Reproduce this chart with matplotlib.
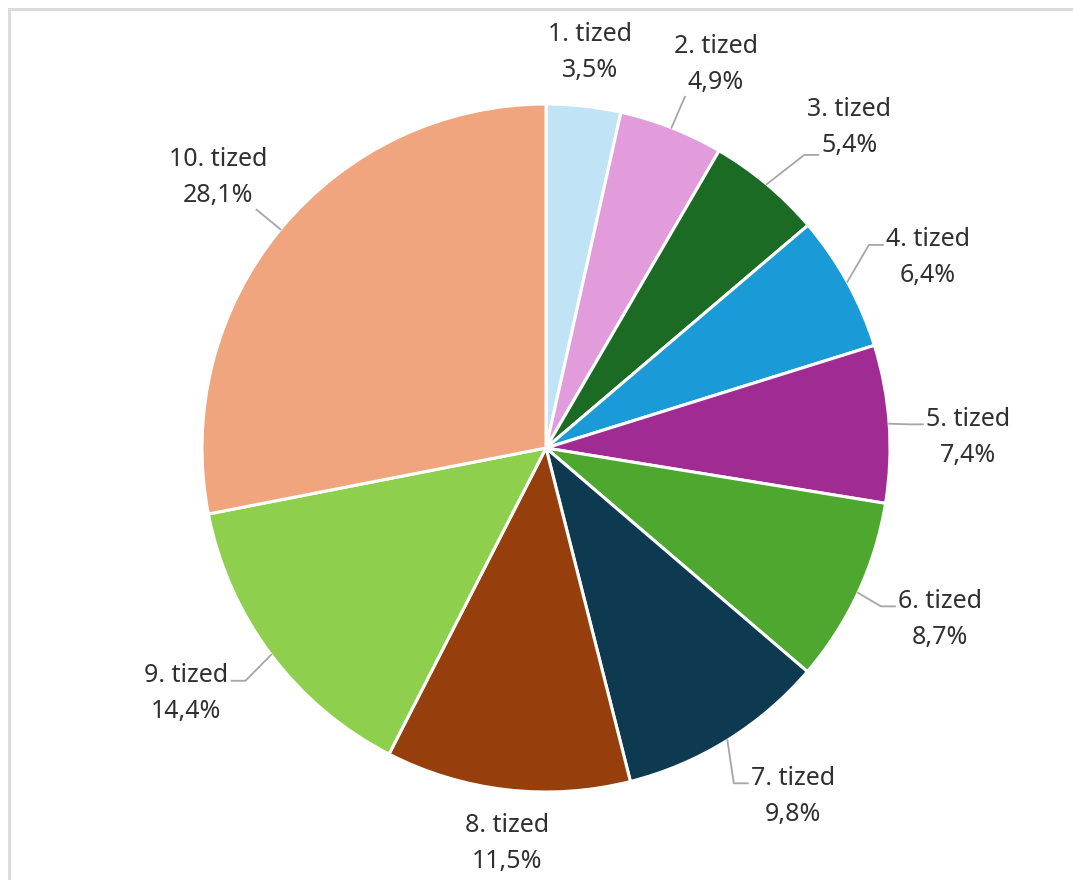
import numpy as np
import matplotlib.pyplot as plt
from matplotlib.lines import Line2D

plt.rcParams['font.family'] = ['Noto Sans', 'DejaVu Sans']

# adatok: jövedelmi tizedek részesedése
categories = ["1. tized", "2. tized", "3. tized", "4. tized", "5. tized",
              "6. tized", "7. tized", "8. tized", "9. tized", "10. tized"]
shares = [3.5, 4.9, 5.4, 6.4, 7.4, 8.7, 9.8, 11.5, 14.4, 28.1]
colors = ["#C0E4F5", "#E29BDB", "#1B6B24", "#1A9AD7", "#A02B93",
          "#4EA72E", "#0E3A51", "#973E0D", "#8ED04E", "#F0A57F"]

# címke elhelyezés: (távolság a sugárhoz képest, szögeltolás fokban)
label_pos = [(1.158, 0.0), (1.22, 2.5), (1.283, 3.5), (1.24, 2.4), (1.227, 2.6),
             (1.249, -1.4), (1.241, -3.5), (1.154, -0.8), (1.266, 2.6), (1.236, 0.1)]
# vezetővonal típusa
leader = [None, 'corner', 'value', 'name', 'name', 'name', 'name', None, 'name', 'corner']

fig = plt.figure(figsize=(10.73, 8.8), dpi=100)
ax = fig.add_axes([0, 0, 1, 1])

wedges, _ = ax.pie(shares, colors=colors, startangle=90, counterclock=False,
                   radius=1.0, wedgeprops=dict(edgecolor='white', linewidth=2.2))

ax.set_xlim(-546 / 344, (1073 - 546) / 344)
ax.set_ylim(-(880 - 448) / 344, 448 / 344)
ax.set_aspect('equal')
ax.axis('off')

total = sum(shares)
cum = np.cumsum([0] + shares)
dy = 18 / 344
labels = []
for i, (cat, val) in enumerate(zip(categories, shares)):
    mid = (cum[i] + val / 2) / total * 360
    d, shift = label_pos[i]
    a = np.radians(mid + shift)
    lx, ly = d * np.sin(a), d * np.cos(a)
    kw = dict(ha='center', va='center', fontsize=18, color='#303030')
    t1 = ax.text(lx, ly + dy, cat, **kw)
    t2 = ax.text(lx, ly - dy, f"{str(val).replace('.', ',')}%", **kw)
    labels.append((mid, t1, t2))

fig.canvas.draw()
r = fig.canvas.get_renderer()
inv = ax.transData.inverted()
for (mid, t1, t2), mode in zip(labels, leader):
    if mode is None:
        continue
    m = np.radians(mid)
    sx, sy = ax.transData.transform((np.sin(m), np.cos(m)))
    right = np.sin(m) > 0
    if mode == 'name':
        bb = t1.get_window_extent(r)
        ty = (bb.y0 + bb.y1) / 2 - 5
    elif mode == 'value':
        bb = t2.get_window_extent(r)
        ty = bb.y0 + 3
    else:
        bb = t2.get_window_extent(r)
        ty = bb.y0 - 2
    tx = bb.x0 - 3 if right else bb.x1 + 3
    if mode == 'corner':
        ex, ey = tx, ty
    else:
        ex, ey = (tx - 14 if right else tx + 14), ty
    pts = inv.transform([(sx, sy), (ex, ey), (tx, ty)])
    ax.add_line(Line2D(pts[:, 0], pts[:, 1], color='#A6A6A6', lw=1.3))

# keret
fig.add_artist(Line2D([9 / 1073, 1], [1 - 9 / 880, 1 - 9 / 880], transform=fig.transFigure,
                      color='#D9D9D9', lw=2))
fig.add_artist(Line2D([9 / 1073, 9 / 1073], [0, 1 - 9 / 880], transform=fig.transFigure,
                      color='#D9D9D9', lw=2))

fig.savefig("out.png", dpi=100)
